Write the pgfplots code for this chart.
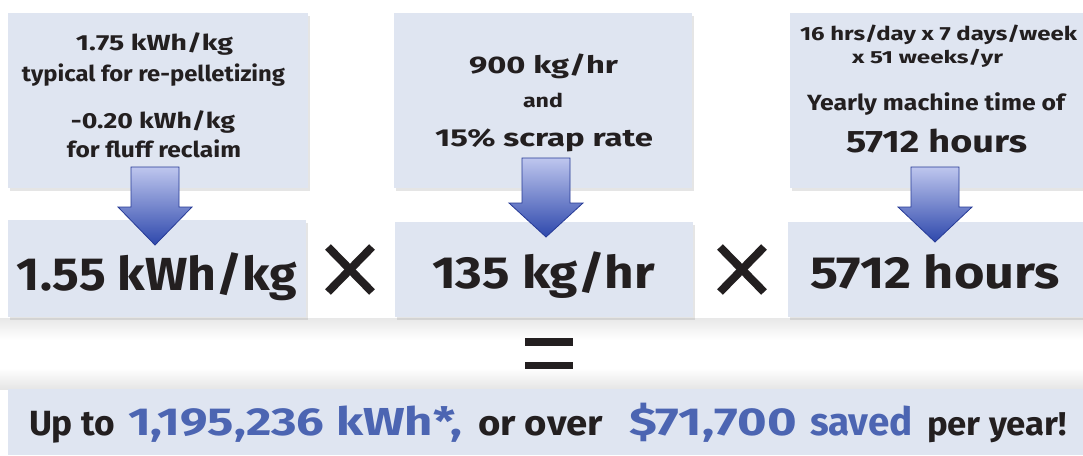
\documentclass[border=0pt]{standalone}
\usepackage{pgfplots}
\pgfplotsset{compat=1.18}
\usepackage{fontspec}
\setmainfont{Fira Sans}
\usepackage{graphicx}
\usetikzlibrary{shadows}
\definecolor{boxc}{RGB}{223,229,241}
\definecolor{txt}{RGB}{35,31,32}
\definecolor{blu}{RGB}{76,101,178}
\definecolor{arrL}{RGB}{190,198,238}
\definecolor{arrD}{RGB}{46,72,172}
\definecolor{arrE}{RGB}{38,58,150}
\newcommand{\tl}[7]{\node[anchor=#1, inner sep=0pt, outer sep=0pt, text=#7] at (axis cs:#2,#3) {\resizebox{#5pt}{\height}{\fontsize{#4}{#4}\selectfont\bfseries #6}};}
\newcommand{\arr}[4]{% cx, top, headstart, tip
  \draw[arrE, line width=0.8pt, top color=arrL, bottom color=arrD]
    (axis cs:#1-24,#2) -- (axis cs:#1+24,#2) -- (axis cs:#1+24,#3) -- (axis cs:#1+37,#3)
    -- (axis cs:#1,#4) -- (axis cs:#1-37,#3) -- (axis cs:#1-24,#3) -- cycle;}
\tikzset{bx/.style={fill=boxc, drop shadow={shadow xshift=1.5pt, shadow yshift=-3pt, opacity=0.22, fill=black!45}}}
\begin{document}
\begin{tikzpicture}
\begin{axis}[name=ax, hide axis, scale only axis, width=1083pt, height=455pt,
  xmin=0, xmax=1083, ymin=0, ymax=455, y dir=reverse, clip=false]
\fill[white] (axis cs:0,0) rectangle (axis cs:1083,455);
\shade[top color=black!9, bottom color=white] (axis cs:0,318) rectangle (axis cs:1083,340);
\shade[top color=white, bottom color=black!10] (axis cs:0,368) rectangle (axis cs:1083,389);
% boxes
\path[bx] (axis cs:8,13) rectangle (axis cs:308,188);
\path[bx] (axis cs:394,13) rectangle (axis cs:692,188);
\path[bx] (axis cs:790,13) rectangle (axis cs:1083,188);
\path[bx] (axis cs:8,220) rectangle (axis cs:306,317);
\path[bx] (axis cs:395,222) rectangle (axis cs:693,317);
\path[bx] (axis cs:788,222) rectangle (axis cs:1083,317);
\path[fill=boxc] (axis cs:8,389) rectangle (axis cs:1083,455);
% arrows
\arr{155}{167}{207}{245}
\arr{546}{158}{203}{237}
\arr{935}{167}{207}{242}
% operators
\draw[txt, line width=8pt] (axis cs:328,247) -- (axis cs:372,292);
\draw[txt, line width=8pt] (axis cs:328,292) -- (axis cs:372,247);
\draw[txt, line width=8pt] (axis cs:720,247) -- (axis cs:764,292);
\draw[txt, line width=8pt] (axis cs:720,292) -- (axis cs:764,247);
\fill[txt] (axis cs:525,338) rectangle (axis cs:573,346);
\fill[txt] (axis cs:525,362) rectangle (axis cs:573,369);
% box 1 text
\tl{base}{154.5}{50}{21.8}{157}{1.75 kWh/kg}{txt}
\tl{base}{153.5}{81}{21.8}{263}{typical for re-pelletizing}{txt}
\tl{base}{153}{128}{21.8}{164}{-0.20 kWh/kg}{txt}
\tl{base}{154}{157}{21.8}{174}{for fluff reclaim}{txt}
\tl{base}{157}{290}{46.4}{280}{1.55 kWh/kg}{txt}
% box 2 text
\tl{base}{543.5}{73}{24}{149}{900 kg/hr}{txt}
\tl{base}{543}{107}{19}{40}{and}{txt}
\tl{base}{544}{146}{24.5}{218}{15\% scrap rate}{txt}
\tl{base}{543.5}{288}{45}{223}{135 kg/hr}{txt}
% box 3 text
\tl{base}{938.5}{40}{19}{277}{16 hrs/day x 7 days/week}{txt}
\tl{base}{927.5}{63}{17.5}{151}{x 51 weeks/yr}{txt}
\tl{base}{936}{110}{22}{258}{Yearly machine time of}{txt}
\tl{base}{936.5}{152}{31}{181}{5712 hours}{txt}
\tl{base}{935}{288}{45}{250}{5712 hours}{txt}
% banner
\tl{base west}{29}{435}{35}{86}{Up to}{txt}
\tl{base west}{128}{435}{39}{334}{1,195,236 kWh*,}{blu}
\tl{base west}{478}{435}{35}{125}{or over}{txt}
\tl{base west}{629}{435}{39}{168}{\$71,700}{blu}
\tl{base west}{810}{435}{39}{103}{saved}{blu}
\tl{base west}{927}{435}{33}{140}{per year!}{txt}
\end{axis}
\pgfresetboundingbox
\useasboundingbox (ax.south west) rectangle (ax.north east);
\end{tikzpicture}
\end{document}
